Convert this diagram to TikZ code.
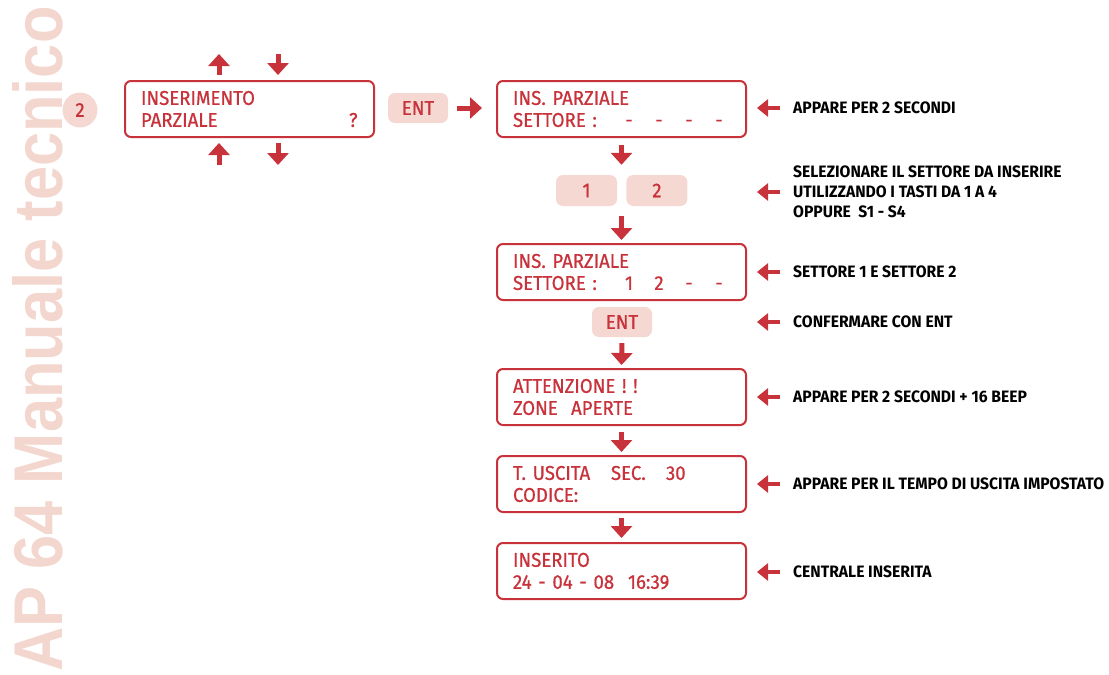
\documentclass[tikz,border=0pt]{standalone}
\usepackage{fontspec}
\usepackage{tikz}
\usetikzlibrary{arrows.meta}
\usetikzlibrary{positioning}
\definecolor{apRed}{HTML}{C8323B}
\definecolor{apPink}{HTML}{F4D8D1}
\definecolor{apMark}{HTML}{F3D7CF}
\newfontfamily\lcdfont[FakeStretch=0.93,FakeBold=0.7]{Fira Sans}
\newfontfamily\notefont[FakeStretch=0.95]{Fira Sans}
\newfontfamily\markfont{Liberation Sans}

\begin{document}
\begin{tikzpicture}[x=1pt,y=-1pt]
\tikzset{LcdBox/.style={
  draw=apRed,
  line width=2pt,
  rounded corners=6pt,
  anchor=north west,
  minimum width=249pt,
  minimum height=56pt,
  text width=217pt,
  inner xsep=16pt,
  align=left,
  text=apRed,
  font=\lcdfont\fontsize{20}{22}\selectfont
}}
\tikzset{KeyBox/.style={
  fill=apPink,
  rounded corners=7pt,
  minimum width=61pt,
  minimum height=31pt,
  inner sep=0pt,
  text=apRed,
  font=\lcdfont\fontsize{20}{22}\selectfont
}}
\tikzset{Badge/.style={
  circle,
  fill=apPink,
  minimum size=35pt,
  inner sep=0pt,
  text=apRed,
  font=\lcdfont\fontsize{20}{22}\selectfont
}}
\tikzset{NoteText/.style={
  anchor=west,
  inner sep=0pt,
  align=left,
  font=\notefont\bfseries\fontsize{16.5}{20}\selectfont
}}
\tikzset{BlockArrow/.style={
  draw=apRed,
  line width=5pt,
  -{Triangle[width=21pt,length=12pt]}
}}
\tikzset{NoteArrow/.style={
  draw=apRed,
  line width=4pt,
  -{Triangle[width=17pt,length=11pt]}
}}
\tikzset{Watermark/.style={
  rotate=90,
  anchor=base west,
  inner sep=0pt,
  text=apMark,
  font=\markfont\bfseries\fontsize{69}{69}\selectfont
}}

\useasboundingbox (0,0) rectangle (1109,675);

% side title
\node[Watermark] (mark) at (62,672) {\scalebox{0.89}[1]{AP 64 Manuale tecnico}};
\node[Badge] (step) at (80,110) {2};

% menu entry
\node[LcdBox] (menu) at (124,80) {INSERIMENTO\\
  \makebox[208pt][l]{PARZIALE}?};
\draw[BlockArrow] ([xshift=95pt,yshift=5pt]menu.north west) -- ++(0,-21);
\draw[BlockArrow] ([xshift=154pt,yshift=26pt]menu.north west) -- ++(0,21);
\draw[BlockArrow] ([xshift=95pt,yshift=-27pt]menu.south west) -- ++(0,-22);
\draw[BlockArrow] ([xshift=154pt,yshift=-5pt]menu.south west) -- ++(0,22);

\node[KeyBox, minimum width=60pt, minimum height=30pt] (entA) at (418,108) {ENT};

% display sequence
\node[LcdBox] (dispA) at (496,80) {INS. PARZIALE\\
  \makebox[116pt][l]{SETTORE :}\makebox[0pt]{-}\hspace{30pt}\makebox[0pt]{-}\hspace{30pt}\makebox[0pt]{-}\hspace{30pt}\makebox[0pt]{-}};
\node[KeyBox] (keyA) at (586.5,190.5) {1};
\node[KeyBox, right=9pt of keyA] (keyB) {2};
\node[LcdBox] (dispB) at (496,243) {INS. PARZIALE\\
  \makebox[116pt][l]{SETTORE :}\makebox[0pt]{1}\hspace{30pt}\makebox[0pt]{2}\hspace{30pt}\makebox[0pt]{-}\hspace{30pt}\makebox[0pt]{-}};
\node[KeyBox, minimum width=60pt, minimum height=30pt] (entB) at (622,322) {ENT};
\node[LcdBox] (dispC) at (496,368) {ATTENZIONE\ !\,\,!\\
  ZONE\ \ APERTE};
\node[LcdBox] (dispD) at (496,455) {\makebox[98pt][l]{T.\ USCITA}\makebox[55pt][l]{SEC.}30\\
  CODICE:};
\node[LcdBox] (dispE) at (496,542) {INSERITO\\
  \makebox[115pt][l]{24 - 04 - 08}16:39};

\draw[BlockArrow, shorten <=9pt, shorten >=14pt] (entA.east) -- (entA.east -| dispA.west);
\draw[BlockArrow, shorten <=7pt, shorten >=10pt] (dispA.south) -- (dispA.south |- keyA.north);
\draw[BlockArrow, shorten <=10pt, shorten >=3pt] (dispA.south |- keyA.south) -- (dispB.north);
\draw[BlockArrow, shorten <=6pt, shorten >=3pt] (entB.south) -- (dispC.north);
\draw[BlockArrow, shorten <=6pt, shorten >=3pt] (dispC.south) -- (dispD.north);
\draw[BlockArrow, shorten <=5pt, shorten >=4pt] (dispD.south) -- (dispE.north);

% notes
\node[NoteText] (noteA) at (793,108) {APPARE PER 2 SECONDI};
\node[NoteText] (noteB) at (793,192) {SELEZIONARE IL SETTORE DA INSERIRE\\
  UTILIZZANDO I TASTI DA 1 A 4\\
  OPPURE\ \ S1 - S4};
\node[NoteText] (noteC) at (793,272) {SETTORE 1 E SETTORE 2};
\node[NoteText] (noteD) at (793,322) {CONFERMARE CON ENT};
\node[NoteText] (noteE) at (793,397) {APPARE PER 2 SECONDI + 16 BEEP};
\node[NoteText] (noteF) at (793,484) {APPARE PER IL TEMPO DI USCITA IMPOSTATO};
\node[NoteText] (noteG) at (793,572) {CENTRALE INSERITA};

\foreach \n in {noteA,noteB,noteC,noteD,noteE,noteF,noteG}
  \draw[NoteArrow] ([xshift=-13pt]\n.west) -- ++(-23,0);
\end{tikzpicture}
\end{document}
